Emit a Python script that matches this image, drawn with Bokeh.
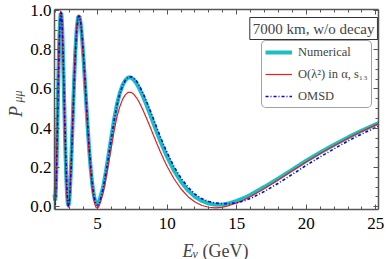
import math
from bokeh.plotting import figure
from bokeh.models import (Range1d, FixedTicker, LinearAxis, Label, Legend, LegendItem)
from bokeh.embed import file_html
from bokeh.resources import INLINE

# ---- data ----
energy = [1.90, 1.95, 2.00, 2.05, 2.10, 2.15, 2.20, 2.25, 2.30, 2.35,
          2.40, 2.45, 2.50, 2.55, 2.60, 2.65, 2.70, 2.75, 2.80, 2.85,
          2.90, 2.95, 3.00, 3.10, 3.20, 3.30, 3.40, 3.50, 3.60, 3.70,
          3.80, 3.90, 4.00, 4.10, 4.20, 4.30, 4.40, 4.50, 4.60, 4.70,
          4.80, 4.90, 5.00, 5.10, 5.20, 5.40, 5.60, 5.80, 6.00, 6.20,
          6.40, 6.60, 6.80, 7.00, 7.20, 7.40, 7.60, 7.80, 8.00, 8.25,
          8.50, 8.75, 9.00, 9.25, 9.50, 9.75, 10.0, 10.5, 11.0, 11.5,
          12.0, 12.5, 13.0, 13.5, 14.0, 14.5, 15.0, 15.5, 16.0, 17.0,
          18.0, 19.0, 20.0, 21.0, 22.0, 23.0, 24.0, 25.0, 25.2]

p_numerical = [0.062, 0.032, 0.093, 0.222, 0.391, 0.568, 0.729, 0.859, 0.946, 0.987,
               0.979, 0.914, 0.806, 0.670, 0.522, 0.378, 0.248, 0.143, 0.066, 0.020,
               0.005, 0.021, 0.067, 0.222, 0.423, 0.625, 0.794, 0.911, 0.968, 0.969,
               0.923, 0.842, 0.738, 0.621, 0.502, 0.387, 0.283, 0.195, 0.124, 0.070,
               0.035, 0.018, 0.016, 0.027, 0.048, 0.100, 0.180, 0.270, 0.360, 0.450,
               0.525, 0.580, 0.620, 0.645, 0.658, 0.658, 0.647, 0.628, 0.602, 0.564,
               0.521, 0.475, 0.428, 0.381, 0.336, 0.294, 0.254, 0.183, 0.127, 0.083,
               0.050, 0.029, 0.016, 0.010, 0.011, 0.018, 0.029, 0.043, 0.061, 0.101,
               0.144, 0.189, 0.234, 0.276, 0.316, 0.353, 0.388, 0.420, 0.426]

p_second_order = [0.003, 0.012, 0.105, 0.255, 0.434, 0.613, 0.770, 0.891, 0.968, 0.999,
                  0.980, 0.904, 0.786, 0.644, 0.492, 0.347, 0.219, 0.117, 0.045, 0.005,
                  -0.004, 0.019, 0.070, 0.235, 0.441, 0.644, 0.811, 0.924, 0.976, 0.971,
                  0.920, 0.835, 0.726, 0.606, 0.484, 0.368, 0.263, 0.173, 0.101, 0.048,
                  0.012, -0.005, -0.007, 0.003, 0.022, 0.070, 0.144, 0.226, 0.309, 0.392,
                  0.461, 0.511, 0.548, 0.571, 0.583, 0.583, 0.573, 0.555, 0.531, 0.494,
                  0.453, 0.411, 0.367, 0.323, 0.281, 0.242, 0.205, 0.141, 0.090, 0.051,
                  0.024, 0.006, -0.003, -0.006, -0.002, 0.007, 0.019, 0.034, 0.052, 0.093,
                  0.137, 0.183, 0.228, 0.271, 0.311, 0.349, 0.384, 0.417, 0.423]

p_omsd = [0.040, 0.003, 0.060, 0.180, 0.350, 0.530, 0.700, 0.840, 0.940, 0.990,
          0.985, 0.930, 0.830, 0.700, 0.550, 0.410, 0.280, 0.165, 0.080, 0.025,
          0.003, 0.012, 0.050, 0.200, 0.400, 0.600, 0.775, 0.900, 0.965, 0.972,
          0.935, 0.860, 0.760, 0.645, 0.525, 0.410, 0.300, 0.210, 0.135, 0.075,
          0.033, 0.010, 0.005, 0.015, 0.036, 0.095, 0.175, 0.265, 0.355, 0.445,
          0.520, 0.577, 0.618, 0.645, 0.660, 0.662, 0.655, 0.640, 0.616, 0.580,
          0.540, 0.495, 0.450, 0.403, 0.358, 0.315, 0.275, 0.203, 0.145, 0.099,
          0.064, 0.040, 0.026, 0.018, 0.015, 0.016, 0.020, 0.029, 0.042, 0.078,
          0.120, 0.165, 0.211, 0.254, 0.295, 0.335, 0.371, 0.404, 0.410]

x_major = [5, 10, 15, 20, 25]
x_minor = [2, 3, 4, 6, 7, 8, 9, 11, 12, 13, 14, 16, 17, 18, 19, 21, 22, 23, 24]
y_major = [0.0, 0.2, 0.4, 0.6, 0.8, 1.0]
y_minor = [0.05, 0.1, 0.15, 0.25, 0.3, 0.35, 0.45, 0.5, 0.55, 0.65, 0.7, 0.75, 0.85, 0.9, 0.95]
x_tick_labels = {5: "5", 10: "10", 15: "15", 20: "20", 25: "25"}
y_tick_labels = {0.0: "0.0", 0.2: "0.2", 0.4: "0.4", 0.6: "0.6", 0.8: "0.8", 1.0: "1.0"}

series_labels = ["Numerical", "O(\u03bb\u00b2) in \u03b1, s\u2081\u2083", "OMSD"]
box_text = "7000 km, w/o decay"

# plotted window (data limits of the framed area)
X_LO, X_HI = 1.9, 25.17
Y_LO, Y_HI = -0.016, 1.005

SERIF = "Liberation Serif"
FRAME = "#555555"
W, H = 387, 259

# the canvas is one big frame; the framed box is drawn by axes at fixed locations
p = figure(width=W, height=H, output_backend="svg", toolbar_location=None,
           x_range=Range1d(-1.982, 25.839), y_range=Range1d(-0.2693, 1.0509),
           min_border=0, x_axis_type=None, y_axis_type=None)
p.background_fill_color = "white"
p.border_fill_color = "white"
p.outline_line_color = None

r1 = p.line(energy, p_numerical, line_color="#1CBEBE", line_width=4)
r2 = p.line(energy, p_second_order, line_color="#EE1C1C", line_width=1.2)
r3 = p.line(energy, p_omsd, line_color="#0000FF", line_width=1.6, line_dash="3 2 1 2")


def make_axis(ticks, minor, labels, loc, bounds, show_labels, standoff):
    ax = LinearAxis(fixed_location=loc, bounds=bounds)
    ax.ticker = FixedTicker(ticks=ticks, minor_ticks=minor)
    ax.axis_line_color = FRAME
    ax.axis_line_width = 1.5
    ax.major_tick_line_color = FRAME
    ax.minor_tick_line_color = FRAME
    ax.major_tick_in = 5
    ax.major_tick_out = 0
    ax.minor_tick_in = 3
    ax.minor_tick_out = 0
    ax.major_label_standoff = standoff
    if show_labels:
        ax.major_label_overrides = labels
        ax.major_label_text_font = SERIF
        ax.major_label_text_color = "black"
        ax.major_label_text_font_size = "17px"
    else:
        ax.major_label_text_font_size = "0px"
        ax.major_label_text_alpha = 0
    return ax


p.add_layout(make_axis(x_major, x_minor, x_tick_labels, Y_LO, (X_LO, X_HI), True, 8), "below")
p.add_layout(make_axis(y_major, y_minor, y_tick_labels, X_LO, (Y_LO, Y_HI), True, 3), "left")
p.add_layout(make_axis(x_major, x_minor, {}, Y_HI, (X_LO, X_HI), False, 0), "above")
p.add_layout(make_axis(y_major, y_minor, {}, X_HI, (Y_LO, Y_HI), False, 0), "right")

# axis titles (screen units, from the canvas bottom-left)
p.add_layout(Label(x=182, y=9, x_units="screen", y_units="screen", text="E",
                   text_font=SERIF, text_font_style="italic", text_font_size="18px",
                   text_baseline="alphabetic", text_align="left"))
p.add_layout(Label(x=192, y=6, x_units="screen", y_units="screen", text="\u03bd",
                   text_font=SERIF, text_font_style="italic", text_font_size="12px",
                   text_baseline="alphabetic", text_align="left"))
p.add_layout(Label(x=202, y=9, x_units="screen", y_units="screen", text="(GeV)",
                   text_font=SERIF, text_font_size="18px",
                   text_baseline="alphabetic", text_align="left"))

p.add_layout(Label(x=15, y=148, x_units="screen", y_units="screen", text="P",
                   text_font=SERIF, text_font_style="italic", text_font_size="18px",
                   text_baseline="alphabetic", text_align="center", angle=math.pi / 2))
p.add_layout(Label(x=17, y=163, x_units="screen", y_units="screen", text="\u03bc\u03bc",
                   text_font=SERIF, text_font_style="italic", text_font_size="12px",
                   text_baseline="alphabetic", text_align="center", angle=math.pi / 2))

# boxed annotation
p.add_layout(Label(x=249.3, y=231, x_units="screen", y_units="screen", text=box_text,
                   text_font=SERIF, text_font_size="15px", text_baseline="middle",
                   text_align="left", border_line_color="#333333", border_line_width=1,
                   background_fill_color="white", padding=3))

legend = Legend(items=[LegendItem(label=series_labels[0], renderers=[r1]),
                       LegendItem(label=series_labels[1], renderers=[r2]),
                       LegendItem(label=series_labels[2], renderers=[r3])],
                location=(261, 151), label_text_font=SERIF, label_text_font_size="12.5px",
                glyph_width=27, glyph_height=16, label_height=16, label_standoff=6,
                spacing=6, padding=3, margin=0, border_line_color="#444444",
                border_line_width=1, background_fill_color="white", background_fill_alpha=1)
if "border_radius" in Legend.properties():
    legend.border_radius = 5
p.add_layout(legend, "center")

open("out.html", "w").write(file_html(p, INLINE))
